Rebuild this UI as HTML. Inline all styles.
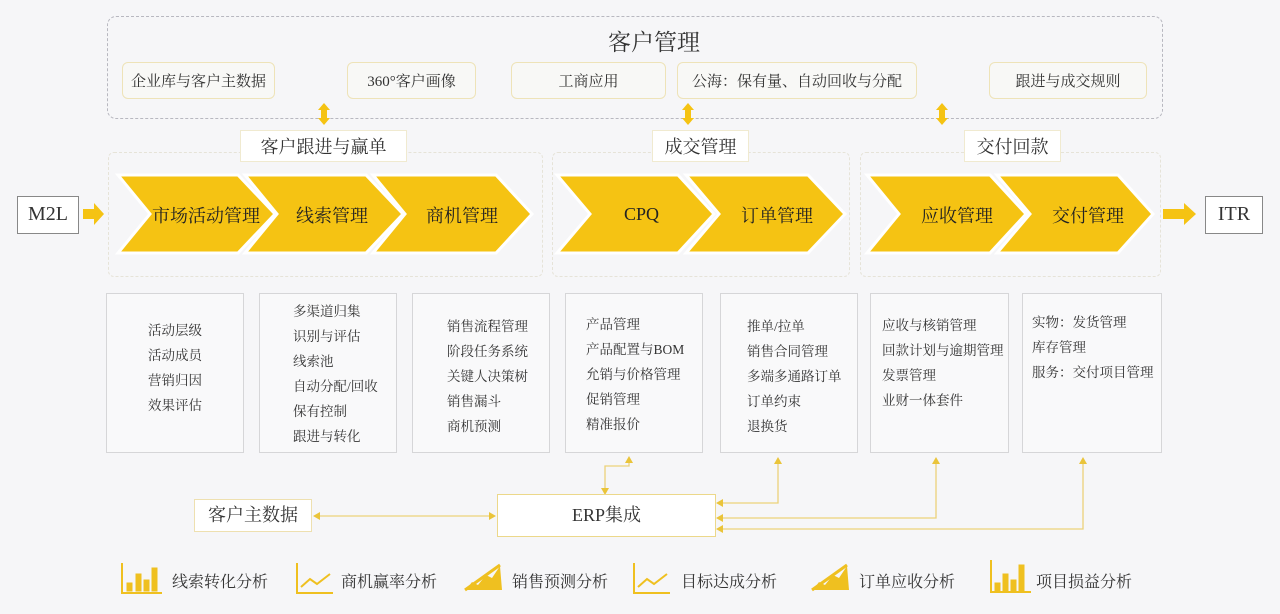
<!DOCTYPE html>
<html><head><meta charset="utf-8"><style>
body{margin:0;width:1280px;height:614px;background:#f6f6f8;position:relative;overflow:hidden;font-family:"Liberation Serif","Noto Serif CJK SC","Noto Sans CJK SC",serif;color:#333}
.a{position:absolute;box-sizing:border-box}
.sub{border:1.5px solid #eee3b8;border-radius:6px;background:#f8f8f6;font-size:15px;display:flex;align-items:center;justify-content:center;height:37px;top:62px}
.lab{background:#fff;border:1px solid #f0ead0;font-size:18px;display:flex;align-items:center;justify-content:center;height:32px;top:130px}
.grp{border:1px dashed #e6e3d8;border-radius:6px;top:152px;height:125px}
.det{border:1.5px solid #d6d6d8;background:#f9f9fa;top:293px;height:160px;font-size:13.5px;line-height:25px}
.ct{color:#222;font-size:18px;position:absolute;top:202px;white-space:nowrap}
.leg{position:absolute;top:569px;font-size:16px}
</style></head><body>
<div class="a" style="left:107px;top:16px;width:1056px;height:103px;border:1px dashed #b8b8c0;border-radius:9px"></div>
<div class="a" style="left:554px;top:24px;width:200px;text-align:center;font-size:23px">客户管理</div>
<div class="a sub" style="left:122px;width:153px">企业库与客户主数据</div>
<div class="a sub" style="left:347px;width:129px">360°客户画像</div>
<div class="a sub" style="left:511px;width:155px">工商应用</div>
<div class="a sub" style="left:677px;width:240px">公海：保有量、自动回收与分配</div>
<div class="a sub" style="left:989px;width:158px">跟进与成交规则</div>
<div class="a grp" style="left:108px;width:435px"></div>
<div class="a grp" style="left:552px;width:298px"></div>
<div class="a grp" style="left:860px;width:301px"></div>
<svg class="a" style="left:0;top:0" width="1280" height="614">
<g fill="#f5c313">
<path d="M318,110 l6,-7 6,7 h-3 v8 h3 l-6,7 -6,-7 h3 v-8z"/>
<path d="M682,110 l6,-7 6,7 h-3 v8 h3 l-6,7 -6,-7 h3 v-8z"/>
<path d="M936,110 l6,-7 6,7 h-3 v8 h3 l-6,7 -6,-7 h3 v-8z"/>
</g>
<g fill="#f5c313" stroke="#fff" stroke-width="3" stroke-linejoin="miter">
<polygon points="118,175 238,175 275,214 238,253 118,253 150,214"/>
<polygon points="245,175 366,175 403,214 366,253 245,253 277,214"/>
<polygon points="373,175 496,175 532,214 496,253 373,253 405,214"/>
<polygon points="557,175 678,175 714,214 678,253 557,253 590,214"/>
<polygon points="686,175 808,175 845,214 808,253 686,253 719,214"/>
<polygon points="867,175 990,175 1026,214 990,253 867,253 899,214"/>
<polygon points="997,175 1118,175 1153,214 1118,253 997,253 1030,214"/>
</g>
<g fill="#f5c313">
<polygon points="83,209 94,209 94,203 104,214 94,225 94,219 83,219"/>
<polygon points="1163,209 1184,209 1184,203 1196,214 1184,225 1184,219 1163,219"/>
</g>
<g stroke="#ecd27a" stroke-width="1.3" fill="none">
<path d="M318,516 H494"/>
<path d="M605,492 V466 H629 V460"/>
<path d="M718,503 H778 V462"/>
<path d="M718,518 H936 V462"/>
<path d="M718,529 H1083 V462"/>
</g>
<g fill="#eac43a">
<polygon points="313,516 320,512 320,520"/><polygon points="496,516 489,512 489,520"/>
<polygon points="605,495 601,488 609,488"/><polygon points="629,456 625,463 633,463"/>
<polygon points="778,457 774,464 782,464"/><polygon points="936,457 932,464 940,464"/><polygon points="1083,457 1079,464 1087,464"/>
<polygon points="716,503 723,499 723,507"/><polygon points="716,518 723,514 723,522"/><polygon points="716,529 723,525 723,533"/>
</g>
<g fill="#efc020" stroke="#efc020">
<path d="M122,563 v30 h40" fill="none" stroke-width="2"/><rect x="127" y="583" width="5" height="8"/><rect x="136" y="574" width="5" height="17"/><rect x="144" y="580" width="5" height="11"/><rect x="152" y="568" width="5" height="23"/>
<path d="M297,563 v30 h36 M301,587 l9,-8 7,5 13,-10" fill="none" stroke-width="2"/>
<path d="M634,563 v30 h36 M638,587 l9,-8 7,5 13,-10" fill="none" stroke-width="2"/>
<path d="M991,560 v32 h40" fill="none" stroke-width="2"/><rect x="995" y="583" width="5" height="8"/><rect x="1003" y="574" width="5" height="17"/><rect x="1011" y="580" width="5" height="11"/><rect x="1019" y="565" width="5" height="26"/>
<path d="M465,590 L500,565" stroke-width="3"/><polygon points="466,590 472,582 478,585 486,575 492,578 500,566 502,590" stroke="none"/>
<path d="M812,590 L847,565" stroke-width="3"/><polygon points="813,590 819,582 825,585 833,575 839,578 847,566 849,590" stroke="none"/>
</g>
</svg>
<div class="a lab" style="left:240px;width:167px">客户跟进与赢单</div>
<div class="a lab" style="left:652px;width:97px">成交管理</div>
<div class="a lab" style="left:964px;width:97px">交付回款</div>
<div class="ct" style="left:152px">市场活动管理</div>
<div class="ct" style="left:296px">线索管理</div>
<div class="ct" style="left:426px">商机管理</div>
<div class="ct" style="left:624px;top:204px">CPQ</div>
<div class="ct" style="left:741px">订单管理</div>
<div class="ct" style="left:921px">应收管理</div>
<div class="ct" style="left:1052px">交付管理</div>
<div class="a" style="left:17px;top:196px;width:62px;height:38px;border:1.5px solid #888;background:#fff;font-size:20px;text-align:center;line-height:35px">M2L</div>
<div class="a" style="left:1205px;top:196px;width:58px;height:38px;border:1.5px solid #888;background:#fff;font-size:20px;text-align:center;line-height:35px">ITR</div>
<div class="a det" style="left:106px;width:138px;padding:24px 0 0 41px">活动层级<br>活动成员<br>营销归因<br>效果评估</div>
<div class="a det" style="left:259px;width:138px;padding:5px 0 0 33px">多渠道归集<br>识别与评估<br>线索池<br>自动分配/回收<br>保有控制<br>跟进与转化</div>
<div class="a det" style="left:412px;width:138px;padding:20px 0 0 34px">销售流程管理<br>阶段任务系统<br>关键人决策树<br>销售漏斗<br>商机预测</div>
<div class="a det" style="left:565px;width:138px;padding:18px 0 0 20px">产品管理<br>产品配置与BOM<br>允销与价格管理<br>促销管理<br>精准报价</div>
<div class="a det" style="left:720px;width:138px;padding:20px 0 0 26px">推单/拉单<br>销售合同管理<br>多端多通路订单<br>订单约束<br>退换货</div>
<div class="a det" style="left:870px;width:139px;padding:19px 0 0 11px">应收与核销管理<br>回款计划与逾期管理<br>发票管理<br>业财一体套件</div>
<div class="a det" style="left:1022px;width:140px;padding:16px 0 0 9px">实物：发货管理<br>库存管理<br>服务：交付项目管理</div>
<div class="a" style="left:194px;top:499px;width:118px;height:33px;border:1.5px solid #eee0b0;background:#fff;font-size:18px;text-align:center;line-height:30px">客户主数据</div>
<div class="a" style="left:497px;top:494px;width:219px;height:43px;border:1.5px solid #ecd88a;background:#fff;font-size:18px;text-align:center;line-height:40px">ERP集成</div>
<div class="leg" style="left:172px">线索转化分析</div>
<div class="leg" style="left:341px">商机赢率分析</div>
<div class="leg" style="left:512px">销售预测分析</div>
<div class="leg" style="left:681px">目标达成分析</div>
<div class="leg" style="left:859px">订单应收分析</div>
<div class="leg" style="left:1036px">项目损益分析</div>
</body></html>
